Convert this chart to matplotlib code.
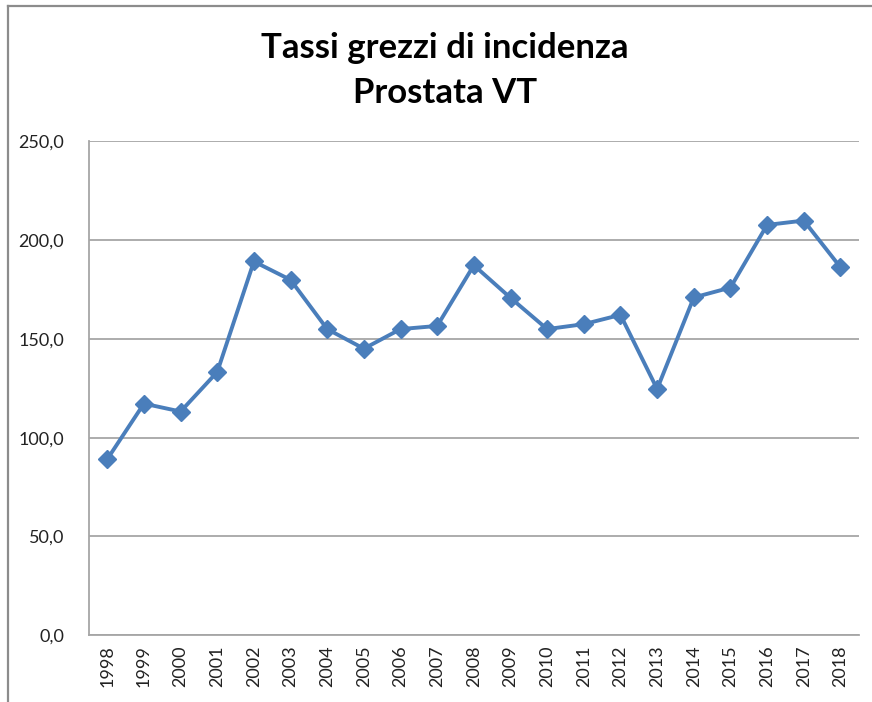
import matplotlib
matplotlib.use("Agg")
import matplotlib.pyplot as plt
from matplotlib.lines import Line2D
from matplotlib.ticker import FuncFormatter

years = [str(y) for y in range(1998, 2019)]
tassi = [89.1, 117.2, 113.2, 133.2, 189.1, 179.8, 154.9, 145.0, 154.9, 156.5,
         187.2, 170.7, 154.9, 157.4, 162.1, 124.6, 170.9, 175.9, 207.6, 209.8, 186.2]
yticks = [0, 50, 100, 150, 200, 250]

plt.rcParams['font.family'] = ['Lato', 'DejaVu Sans']

fig = plt.figure(figsize=(8.72, 7.02), dpi=100)
ax = fig.add_axes([0.102, 0.095, 0.8828, 0.704])

x = range(len(years))
ax.plot(x, tassi, color='#4a7ebb', linewidth=2.8, marker='D', markersize=9.5,
        markeredgecolor='#4a7ebb', markerfacecolor='#4a7ebb', zorder=3)

ax.set_xlim(-0.5, len(years) - 0.5)
ax.set_ylim(0, 250)
ax.set_yticks(yticks)
ax.yaxis.set_major_formatter(FuncFormatter(lambda v, p: f"{v:.1f}".replace('.', ',')))
ax.set_xticks(list(x))
ax.set_xticklabels(years, rotation=90)
ax.tick_params(axis='both', length=0, labelsize=13, colors='#222222')
ax.tick_params(axis='y', pad=18)
ax.tick_params(axis='x', pad=7)

ax.grid(axis='y', color='#a6a6a6', linewidth=1.3)
ax.set_axisbelow(True)
for s in ['top', 'right']:
    ax.spines[s].set_visible(False)
for s in ['left', 'bottom']:
    ax.spines[s].set_color('#a6a6a6')
    ax.spines[s].set_linewidth(1.3)

fig.text(0.51, 0.932, "Tassi grezzi di incidenza", ha='center', va='center',
         fontsize=25, fontweight='bold')
fig.text(0.51, 0.868, "Prostata VT", ha='center', va='center',
         fontsize=25, fontweight='bold')

# outer chart frame (left and top edges)
fig.add_artist(Line2D([8/872, 8/872], [0, 1 - 6/702], transform=fig.transFigure,
                      color='#8c8c8c', linewidth=1.6))
fig.add_artist(Line2D([8/872, 1], [1 - 6/702, 1 - 6/702], transform=fig.transFigure,
                      color='#8c8c8c', linewidth=1.6))

fig.savefig("out.png", dpi=100)
